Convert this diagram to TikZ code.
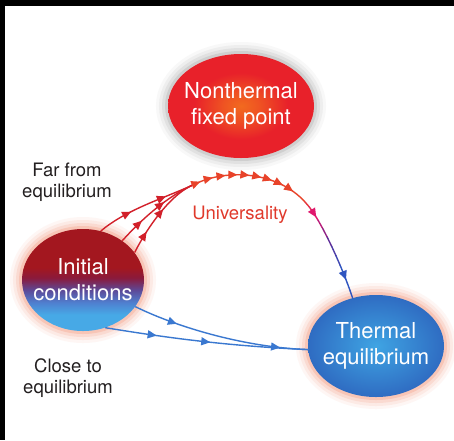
\documentclass[tikz,border=0pt]{standalone}
\usepackage{fontspec}
\setmainfont{TeX Gyre Heros}
\usetikzlibrary{shapes.geometric,arrows.meta,decorations.markings}
\definecolor{FixedRed}{HTML}{E8212A}
\definecolor{FixedCore}{HTML}{F26A1F}
\definecolor{ThermalEdge}{HTML}{2F6CC2}
\definecolor{ThermalCore}{HTML}{3FA4E3}
\definecolor{InitRed}{HTML}{A3171F}
\definecolor{InitWine}{HTML}{8A1A3C}
\definecolor{InitPurple}{HTML}{5D4A98}
\definecolor{InitBlue}{HTML}{4F7FCF}
\definecolor{InitSky}{HTML}{47A9E6}
\definecolor{Glow}{HTML}{F4967A}
\definecolor{Shadow}{HTML}{A8A8A8}
\definecolor{FlowRed}{HTML}{D2202A}
\definecolor{ArcRed}{HTML}{E8432A}
\definecolor{FlowMagenta}{HTML}{E0186E}
\definecolor{FlowPurple}{HTML}{5E2E98}
\definecolor{FlowBlue}{HTML}{2F55C0}
\definecolor{CloseBlue}{HTML}{3A78D0}
\definecolor{Ink}{HTML}{231F20}
\definecolor{Univ}{HTML}{E0392B}

\pgfdeclareverticalshading{initshade}{100bp}{color(0bp)=(InitSky); color(33bp)=(InitSky); color(39bp)=(InitBlue); color(45bp)=(InitPurple); color(51bp)=(InitWine); color(56bp)=(InitRed); color(100bp)=(InitRed)}
\pgfdeclareradialshading{fixedshade}{\pgfpoint{0bp}{0bp}}{color(0bp)=(FixedCore); color(6bp)=(FixedCore!70!FixedRed); color(16bp)=(FixedRed); color(25bp)=(FixedRed); color(50bp)=(FixedRed)}
\pgfdeclareradialshading{thermalshade}{\pgfpoint{0bp}{0bp}}{color(0bp)=(ThermalCore); color(25bp)=(ThermalEdge); color(50bp)=(ThermalEdge)}

\begin{document}
\begin{tikzpicture}[x=1pt,y=-1pt,
	stage/.style={ellipse, align=center, text=white, inner xsep=-12pt, inner ysep=0pt,
		font=\fontsize{22}{26}\selectfont},
	glow/.style={
		preaction={draw=#1,line width=24pt,draw opacity=0.08},
		preaction={draw=#1,line width=18pt,draw opacity=0.12},
		preaction={draw=#1,line width=12pt,draw opacity=0.18},
		preaction={draw=#1,line width=6pt,draw opacity=0.3}},
	note/.style={align=center, text=Ink, font=\fontsize{18.5}{21}\selectfont},
	flowline/.style={line width=1.4pt},
	flowtip/.tip={Triangle[length=9pt,width=8pt]},
	tipsat/.style={postaction={decorate,decoration={markings,
		mark=at position #1 with {\arrow{flowtip}}}}},
	midtip/.style={tipsat=0.6}]
	
	\useasboundingbox (0,0) rectangle (454,440);
	\fill[white] (0,0) rectangle (454,440);
	\fill[black] (0,0) rectangle (454,6);
	\fill[black] (0,0) rectangle (5,440);
	
	% ---------------------------------------------------------
	% STATES
	% ---------------------------------------------------------
	
	\node[
	stage,
	glow=Shadow,
	shade,
	shading=fixedshade,
	minimum width=146pt,
	minimum height=104pt
	]
	(fixed) at (241,106)
	{Nonthermal\\fixed point};
	
	\node[
	stage,
	glow=Glow,
	shade,
	shading=initshade,
	minimum width=122pt,
	minimum height=102pt
	]
	(init) at (83,280)
	{Initial\\conditions};
	
	\node[
	stage,
	glow=Glow,
	shade,
	shading=thermalshade,
	minimum width=136pt,
	minimum height=102pt
	]
	(therm) at (376,346)
	{Thermal\\equilibrium};
	
	% ---------------------------------------------------------
	% LABELS
	% ---------------------------------------------------------
	
	\node[note] (far) at (67,182) {Far from\\equilibrium};
	\node[note] (close) at (68,378) {Close to\\equilibrium};
	\node[note, text=Univ] (univ) at (240,215) {Universality};
	
	% ---------------------------------------------------------
	% FAR FROM EQUILIBRIUM
	% ---------------------------------------------------------
	
	\coordinate (merge) at (195,184);
	\coordinate (bend) at (305,202);
	
	\draw[FlowRed, flowline, tipsat=36pt, tipsat=74pt]
	(init.70) .. controls +(26,-22) and +(-30,14) .. (merge);
	
	\draw[FlowRed, flowline, tipsat=28pt, tipsat=57pt]
	(init.45) .. controls +(18,-20) and +(-28,12) .. (merge);
	
	\draw[FlowRed, flowline, tipsat=24pt, tipsat=52pt]
	(init.28) .. controls +(10,-20) and +(-26,10) .. (merge);
	
	\draw[ArcRed, flowline, tipsat=-16pt, tipsat=-28pt, tipsat=-40pt,
	tipsat=-51pt, tipsat=-63pt, tipsat=-75pt, tipsat=-87pt,
	tipsat=-100pt, tipsat=-113pt]
	(merge) .. controls (228,168) and (278,172) .. (bend);
	
	% colour runs from red to blue on the way down
	\path (bend) .. controls +(16,16) and +(-8,-25) .. (therm.116)
	foreach \k in {0,...,12} {coordinate[pos=\k/12] (tail\k)};
	
	\foreach \c/\t [count=\k] in {ArcRed!70!FlowMagenta/, ArcRed!35!FlowMagenta/,
		FlowMagenta/midtip, FlowMagenta!70!FlowPurple/, FlowMagenta!40!FlowPurple/,
		FlowPurple/, FlowPurple!65!FlowBlue/, FlowPurple!35!FlowBlue/, FlowBlue/,
		FlowBlue/midtip, FlowBlue/, FlowBlue/}{
		\pgfmathtruncatemacro\j{\k-1}
		\draw[\c, flowline, line cap=round, \t] (tail\j) -- (tail\k);
	}
	
	% ---------------------------------------------------------
	% CLOSE TO EQUILIBRIUM
	% ---------------------------------------------------------
	
	\draw[CloseBlue, flowline, tipsat=45pt, tipsat=-28pt]
	(init.-27) .. controls +(45,22) and +(-60,-2) .. (therm.183);
	
	\draw[CloseBlue, flowline, tipsat=52pt, tipsat=106pt]
	(init.-65) .. controls +(50,8) and +(-90,-4) .. (therm.183);
	
\end{tikzpicture}
\end{document}
